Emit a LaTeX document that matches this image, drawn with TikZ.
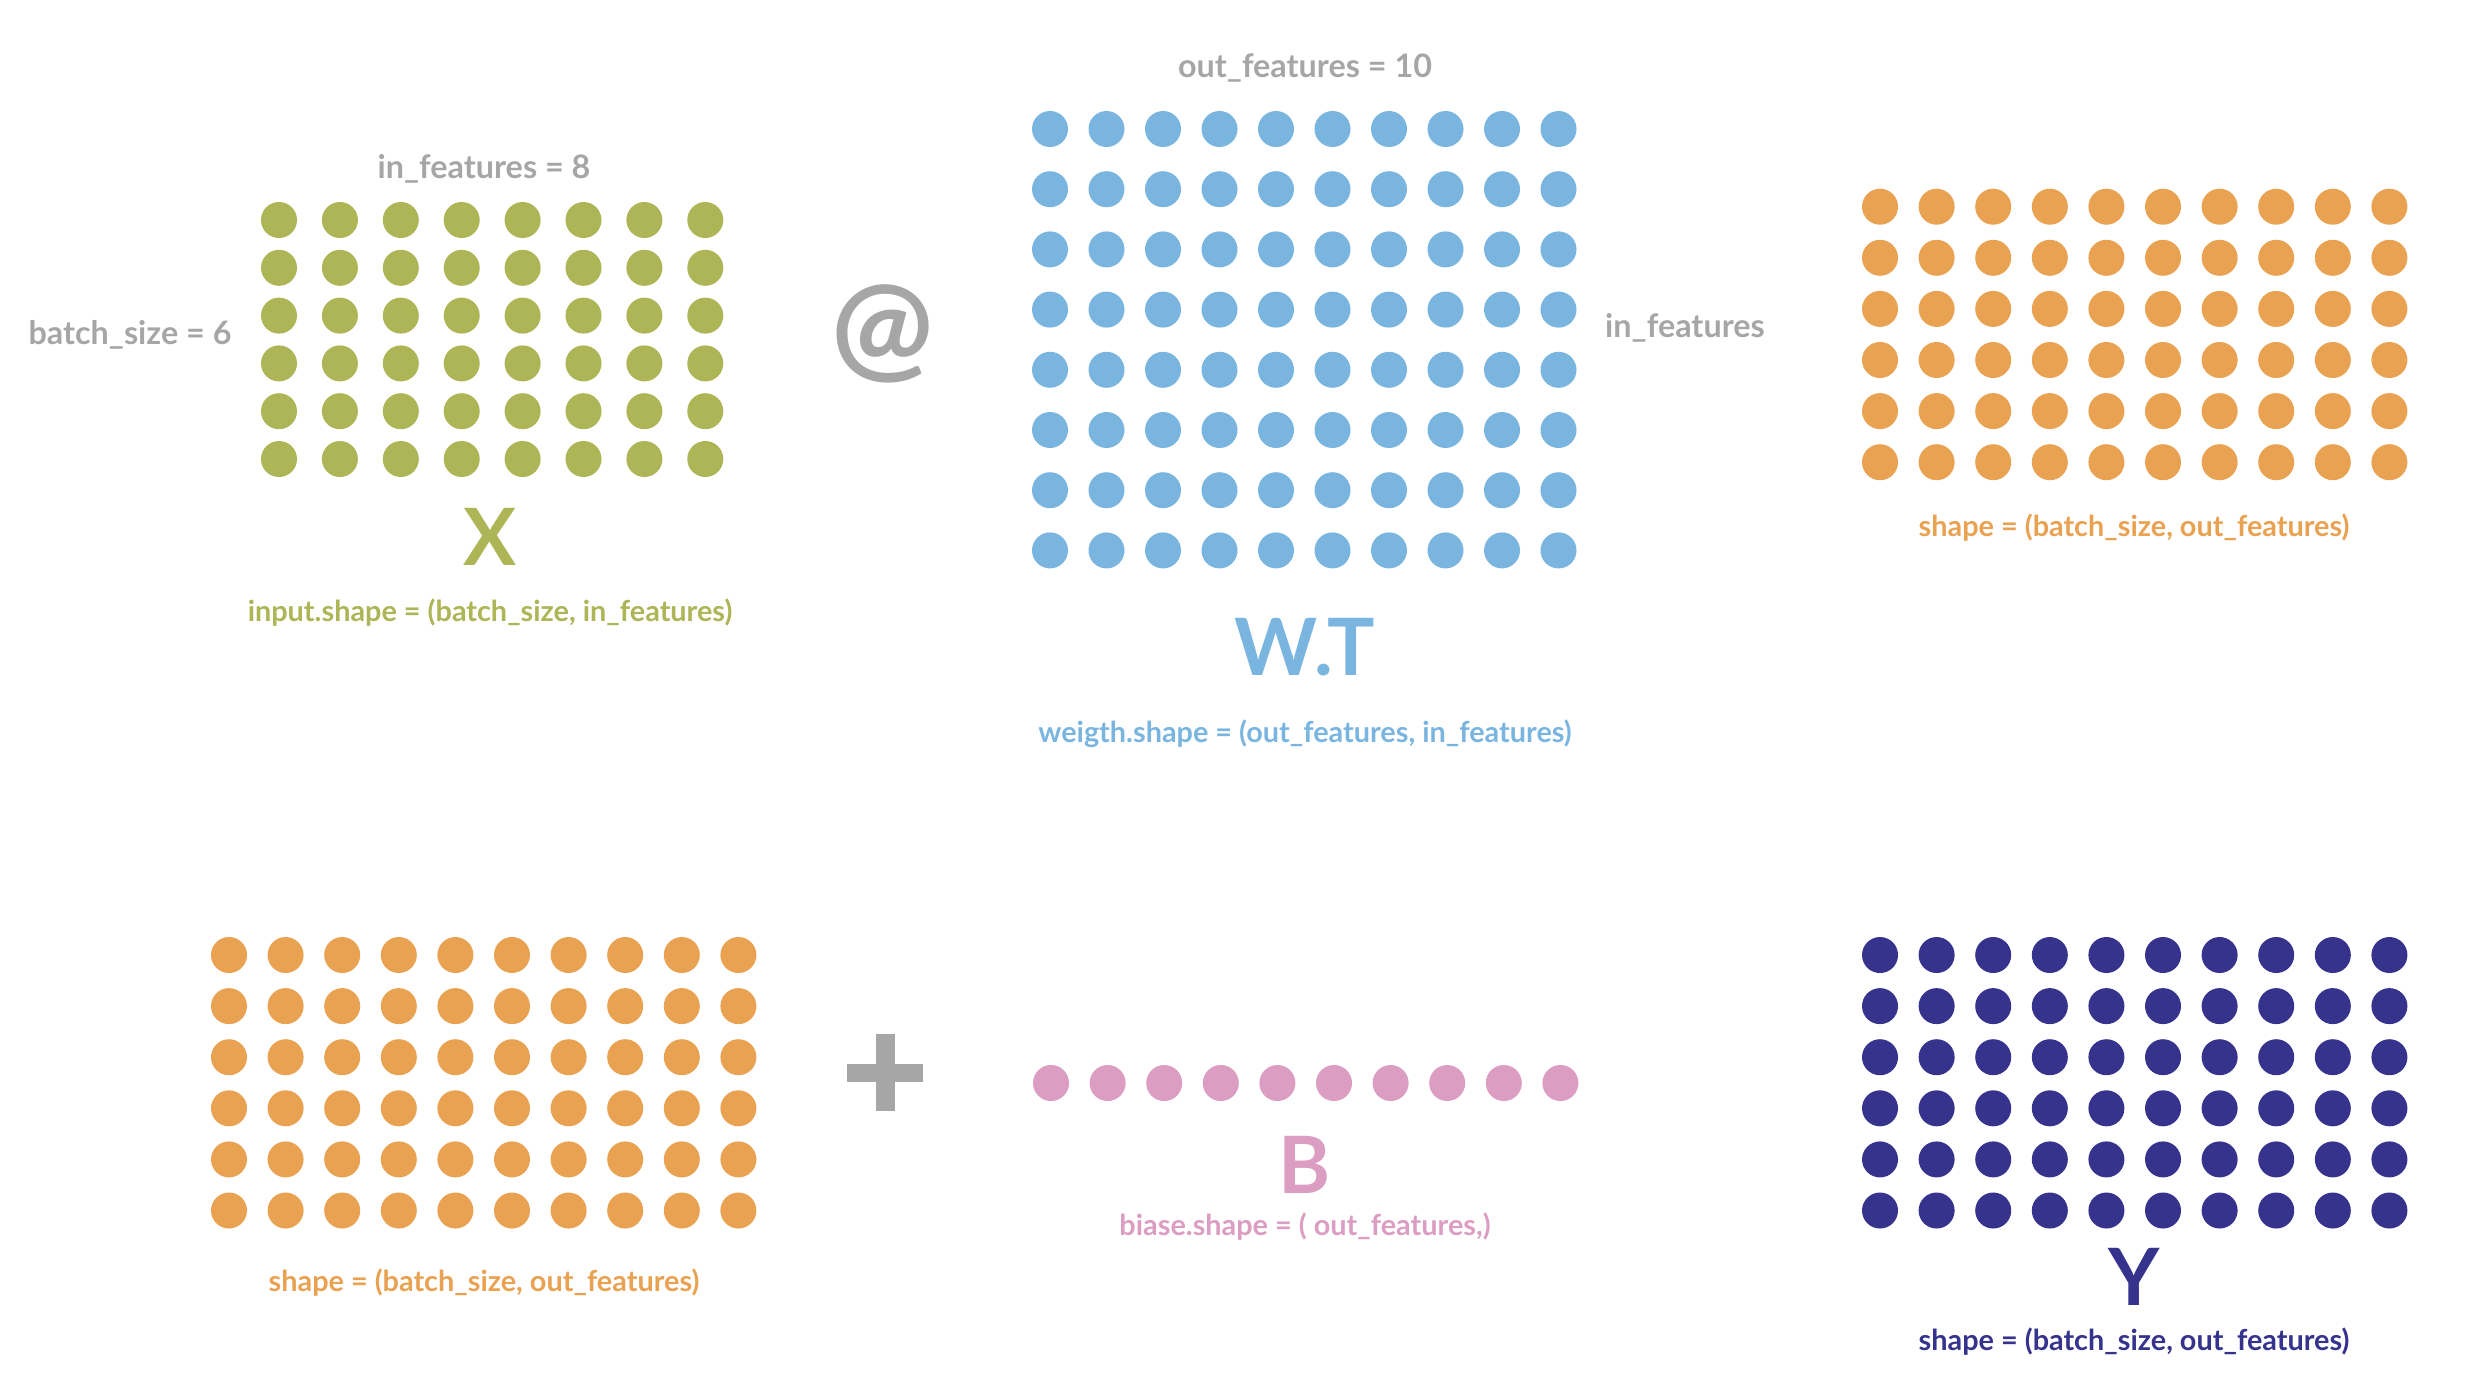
\documentclass[tikz,border=0pt]{standalone}
\usepackage{fontspec}
\setmainfont{Lato}
\usetikzlibrary{positioning}

\definecolor{xgreen}{HTML}{ADB556}
\definecolor{wblue}{HTML}{7AB5E0}
\definecolor{horange}{HTML}{E8A252}
\definecolor{bpink}{HTML}{DB9DC2}
\definecolor{ynavy}{HTML}{35338C}
\definecolor{opgray}{HTML}{A6A6A6}

\tikzset{
    dot/.style={circle, inner sep=0pt, minimum size=0.36cm},
    shapelabel/.style={font=\fontsize{8.2}{9}\selectfont\bfseries},
    dimlabel/.style={text=opgray, font=\fontsize{9.2}{10}\selectfont\bfseries},
    bigname/.style={font=\fontsize{22.5}{24}\selectfont\bfseries},
}

\begin{document}
\begin{tikzpicture}[x=0.01cm, y=-0.01cm]
    \useasboundingbox ({0}, {0}) rectangle ({2476}, {1378});

    % Input X
    \foreach \r in {1,...,6}
        \foreach \c in {1,...,8}
            \node[dot, fill=xgreen] (x-\r-\c) at ({279+60.9*(\c-1)}, {220+47.8*(\r-1)}) {};
    \node[dimlabel] (infeat) at ({484}, {169}) {in\_features = 8};
    \node[dimlabel] (batch) at ({130}, {335}) {batch\_size = 6};
    \node[bigname, text=xgreen] (xname) at ({490}, {537}) {X};
    \node[shapelabel, text=xgreen] (xshape) at ({490}, {613}) {input.shape = (batch\_size, in\_features)};

    % Matmul sign
    \node[text=opgray, font=\fontsize{34.5}{36}\selectfont\bfseries] (matmul) at ({883}, {334}) {@};

    % Weight W.T
    \foreach \r in {1,...,8}
        \foreach \c in {1,...,10}
            \node[dot, fill=wblue] (w-\r-\c) at ({1050+56.5*(\c-1)}, {129+60.2*(\r-1)}) {};
    \node[dimlabel] (outfeat) at ({1305}, {68}) {out\_features = 10};
    \node[dimlabel] (wrows) at ({1685}, {328}) {in\_features};
    \node[bigname, text=wblue] (wname) at ({1305}, {647}) {W.T};
    \node[shapelabel, text=wblue] (wshape) at ({1305}, {734}) {weigth.shape = (out\_features, in\_features)};

    % Product X @ W.T
    \foreach \r in {1,...,6}
        \foreach \c in {1,...,10}
            \node[dot, fill=horange] (p-\r-\c) at ({1880+56.6*(\c-1)}, {206.7+51.1*(\r-1)}) {};
    \node[shapelabel, text=horange] (pshape) at ({2134}, {528}) {shape = (batch\_size, out\_features)};

    % Product again, bottom row
    \foreach \r in {1,...,6}
        \foreach \c in {1,...,10}
            \node[dot, fill=horange] (q-\r-\c) at ({229+56.6*(\c-1)}, {955+51.1*(\r-1)}) {};
    \node[shapelabel, text=horange] (qshape) at ({484}, {1283}) {shape = (batch\_size, out\_features)};

    % Plus sign
    \fill[opgray] ({847}, {1064}) rectangle ({923}, {1082});
    \fill[opgray] ({876}, {1034}) rectangle ({895}, {1111});

    % Bias B
    \foreach \c in {1,...,10}
        \node[dot, fill=bpink] (b-\c) at ({1051+56.6*(\c-1)}, {1083}) {};
    \node[bigname, text=bpink] (bname) at ({1305}, {1165}) {B};
    \node[shapelabel, text=bpink] (bshape) at ({1305}, {1227}) {biase.shape = ( out\_features,)};

    % Output Y
    \foreach \r in {1,...,6}
        \foreach \c in {1,...,10}
            \node[dot, fill=ynavy] (y-\r-\c) at ({1880+56.6*(\c-1)}, {955+51.1*(\r-1)}) {};
    \node[bigname, text=ynavy] (yname) at ({2134}, {1277}) {Y};
    \node[shapelabel, text=ynavy] (yshape) at ({2134}, {1342}) {shape = (batch\_size, out\_features)};
\end{tikzpicture}
\end{document}
